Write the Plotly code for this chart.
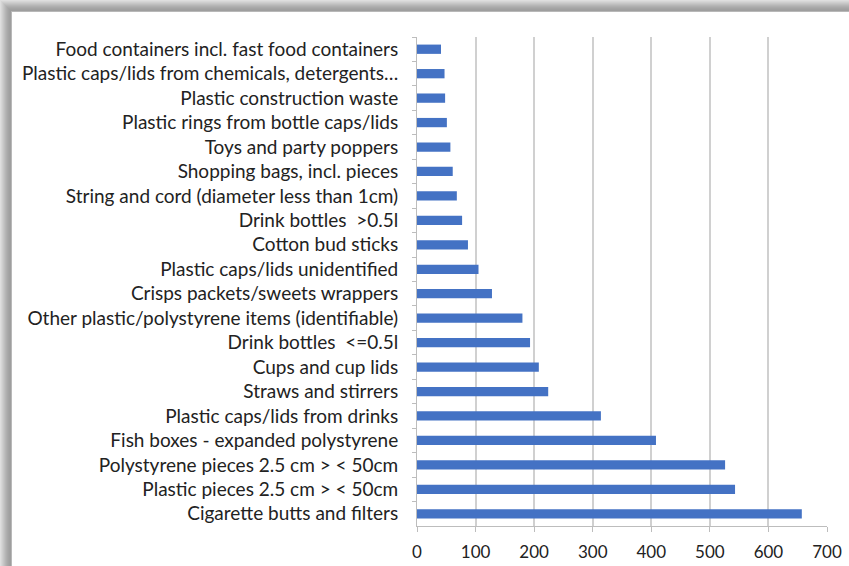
import plotly.graph_objects as go

# Litter items, listed top to bottom
categories = [
    "Food containers incl. fast food containers",
    "Plastic caps/lids from chemicals, detergents…",
    "Plastic construction waste",
    "Plastic rings from bottle caps/lids",
    "Toys and party poppers",
    "Shopping bags, incl. pieces",
    "String and cord (diameter less than 1cm)",
    "Drink bottles  >0.5l",
    "Cotton bud sticks",
    "Plastic caps/lids unidentified",
    "Crisps packets/sweets wrappers",
    "Other plastic/polystyrene items (identifiable)",
    "Drink bottles  <=0.5l",
    "Cups and cup lids",
    "Straws and stirrers",
    "Plastic caps/lids from drinks",
    "Fish boxes - expanded polystyrene",
    "Polystyrene pieces 2.5 cm > < 50cm",
    "Plastic pieces 2.5 cm > < 50cm",
    "Cigarette butts and filters",
]
counts = [41, 47, 48, 51, 57, 61, 68, 77, 87, 105,
          128, 180, 193, 208, 224, 314, 408, 526, 543, 657]
x_ticks = [0, 100, 200, 300, 400, 500, 600, 700]

W, H = 849, 566
ML, MR, MT, MB = 417, 22, 37, 40

fig = go.Figure(go.Bar(
    x=counts, y=categories, orientation="h",
    marker=dict(color="#4472C4", line=dict(width=0)),
    width=0.38,
))

FONT = "Lato, 'Open Sans', sans-serif"
TXT = "#222222"

fig.update_layout(
    width=W, height=H,
    margin=dict(l=ML, r=MR, t=MT, b=MB, pad=0, autoexpand=False),
    paper_bgcolor="white", plot_bgcolor="white",
    showlegend=False,
    font=dict(family=FONT, size=19, color=TXT),
    xaxis=dict(
        range=[0, 700], tickvals=x_ticks, ticktext=[str(v) for v in x_ticks],
        automargin=False,
        showgrid=True, gridcolor="#d0d0d0", gridwidth=1.5,
        zeroline=False, showline=True, linecolor="#bdbdbd", linewidth=1,
        ticks="outside", ticklen=5, tickcolor="#bdbdbd",
        ticklabelstandoff=6,
        tickfont=dict(size=17, color=TXT),
    ),
    yaxis=dict(
        autorange="reversed", type="category", automargin=False,
        showgrid=False, zeroline=False,
        showline=True, linecolor="#bdbdbd", linewidth=1,
        ticks="outside", ticklen=4, tickcolor="#bdbdbd", tickson="boundaries",
        ticklabelstandoff=14,
        tickfont=dict(size=19, color=TXT),
    ),
)

# Drop-shadow frame along the top and left edges of the card
pw = W - ML - MR
ph = H - MT - MB

def px_x(p):
    return (p - ML) / pw

def px_y(p):
    return 1 - (p - MT) / ph

# outermost pixel first, darkest next to the card edge
shades = ["#dedede", "#d6d6d6", "#cecece", "#c6c6c6", "#bebebe", "#b6b6b6",
          "#afafaf", "#a9a9a9", "#a4a4a4", "#a0a0a0", "#9e9e9e", "#b8b8b8"]
for i, c in enumerate(shades):
    fig.add_shape(type="rect", xref="paper", yref="paper", layer="below",
                  x0=px_x(i), x1=px_x(W), y0=px_y(i), y1=px_y(i + 1),
                  fillcolor=c, line=dict(width=0))
    fig.add_shape(type="rect", xref="paper", yref="paper", layer="below",
                  x0=px_x(i), x1=px_x(i + 1), y0=px_y(i), y1=px_y(H),
                  fillcolor=c, line=dict(width=0))

fig.write_html("out.html")
